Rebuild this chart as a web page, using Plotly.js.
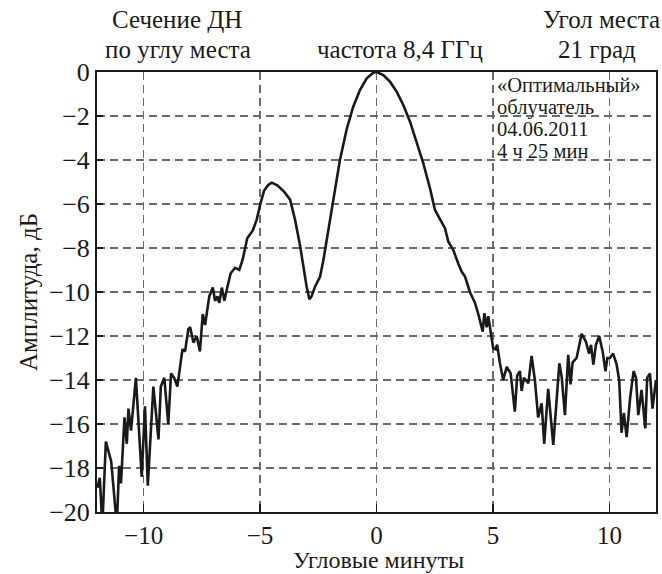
<!DOCTYPE html>
<html>
<head>
<meta charset="utf-8">
<script src="https://cdn.plot.ly/plotly-3.0.1.min.js"></script>
<style>html,body{margin:0;padding:0;background:#fff;}#chart{width:662px;height:574px;}</style>
</head>
<body>
<div id="chart"></div>
<script>
// Angle, arc minutes
const angleMin = [
 -11.98,-11.88,-11.77,-11.62,-11.39,-11.15,-11.05,-10.97,-10.82,-10.72,-10.65,-10.54,-10.33,-10.08,-9.94,-9.82,
 -9.58,-9.46,-9.36,-9.26,-9.11,-8.94,-8.82,-8.69,-8.55,-8.33,-8.22,-8.08,-8.00,-7.86,-7.72,-7.58,-7.46,-7.36,-7.28,
 -7.18,-7.03,-6.93,-6.83,-6.75,-6.64,-6.53,-6.43,-6.26,-6.07,-5.89,-5.74,-5.55,-5.31,-5.14,-5.00,-4.83,-4.66,-4.50,
 -4.26,-3.97,-3.71,-3.50,-3.28,-3.14,-3.00,-2.88,-2.79,-2.64,-2.42,-2.28,-2.07,-1.85,-1.57,-1.28,-1.00,-0.71,-0.42,
 -0.14,0.01,0.29,0.58,0.87,1.15,1.44,1.73,2.01,2.30,2.51,2.73,2.94,3.08,3.30,3.51,3.66,3.80,4.01,4.23,4.37,4.56,
 4.63,4.73,4.80,4.90,5.01,5.11,5.18,5.30,5.44,5.59,5.76,5.94,6.04,6.16,6.23,6.33,6.42,6.52,6.66,6.80,6.94,7.09,
 7.20,7.37,7.59,7.85,7.95,8.09,8.23,8.33,8.42,8.59,8.81,8.99,9.13,9.21,9.31,9.42,9.56,9.71,9.83,9.91,10.02,10.16,
 10.31,10.42,10.52,10.62,10.74,10.89,11.04,11.14,11.24,11.38,11.54,11.62,11.74,11.85,12.0
];
// Amplitude, dB
const amplitudeDb = [
 -18.9,-18.45,-20.6,-16.8,-17.7,-20.6,-17.9,-18.7,-15.7,-16.9,-15.3,-16.3,-13.9,-18.4,-15.2,-18.8,
 -14.3,-15.6,-16.7,-14.3,-13.9,-16.0,-13.7,-13.9,-14.3,-12.6,-12.7,-11.7,-11.6,-12.3,-12.0,-12.7,-11.0,-11.5,-11.0,
 -10.2,-9.8,-10.4,-10.2,-10.5,-9.8,-10.4,-9.9,-9.15,-8.9,-9.0,-8.5,-7.56,-7.2,-6.7,-6.05,-5.4,-5.15,-5.03,
 -5.15,-5.44,-5.8,-6.7,-7.9,-8.85,-9.76,-10.33,-10.2,-9.76,-9.3,-8.55,-7.2,-5.8,-4.0,-2.6,-1.58,-0.82,-0.29,
 -0.03,0,-0.14,-0.44,-0.9,-1.5,-2.26,-3.17,-4.15,-5.3,-6.27,-6.7,-7.1,-7.7,-8.1,-8.7,-9.08,-9.3,-10.0,-10.5,-11.0,-11.8,
 -10.97,-11.6,-11.1,-11.8,-12.56,-12.6,-12.4,-13.24,-14.0,-13.4,-13.7,-15.44,-13.8,-13.6,-14.5,-13.9,-14.0,-14.15,-12.9,-14.0,-15.7,-15.06,
 -16.9,-14.4,-16.95,-13.24,-13.85,-15.6,-12.86,-14.2,-13.2,-13.0,-11.9,-12.26,-12.8,-12.4,-13.3,-12.4,-12.0,-12.7,-13.6,-13.0,-13.0,-12.8,
 -13.3,-14.0,-16.4,-15.5,-16.6,-14.8,-13.6,-13.9,-15.6,-14.45,-16.2,-13.9,-13.7,-15.3,-14.0
];
const xTicks = [-10, -5, 0, 5, 10];
const yTicks = [0, -2, -4, -6, -8, -10, -12, -14, -16, -18, -20];

const titleLeft1 = 'Сечение ДН';
const titleLeft2 = 'по углу места';
const titleMid = 'частота 8,4 ГГц';
const titleRight1 = 'Угол места';
const titleRight2 = '21 град';
const noteLines = ['«Оптимальный»', 'облучатель', '04.06.2011', '4 ч 25 мин'];
const xTitle = 'Угловые минуты';
const yTitle = 'Амплитуда, дБ';

const FONT = 'Liberation Serif, Times New Roman, serif';
const INK = '#1a1a1a';
const gridCol = '#6a6a6a';

const trace = {
  x: angleMin, y: amplitudeDb, type: 'scatter', mode: 'lines',
  line: {color: INK, width: 2.6}, hoverinfo: 'skip', showlegend: false
};

function txt(text, x, y, anchor, size, yanchor) {
  return {text: text, x: x, y: y, xref: 'paper', yref: 'paper', showarrow: false,
          xanchor: anchor, yanchor: yanchor || 'middle', font: {family: FONT, size: size, color: INK}};
}
// pixel helpers for layout placement (plot area 97..656 x 72..512)
const px = v => (v - 97) / 559;
const py = v => (512 - v) / 440;

const annotations = [
  txt(titleLeft1, px(177), py(19), 'center', 25),
  txt(titleLeft2, px(178), py(49), 'center', 25),
  txt(titleMid, px(400), py(49), 'center', 25),
  txt(titleRight1, px(601), py(19), 'center', 25),
  txt(titleRight2, px(597), py(49), 'center', 25),
  txt(xTitle, px(378), py(575), 'center', 24, 'bottom')
];
const noteY = [85, 107, 129, 151];
noteLines.forEach((t, i) => annotations.push(txt(t, px(495), py(noteY[i]), 'left', 20.5)));

const layout = {
  width: 662, height: 574,
  margin: {l: 97, r: 6, t: 72, b: 62},
  paper_bgcolor: '#fff', plot_bgcolor: '#fff',
  font: {family: FONT, color: INK},
  xaxis: {
    range: [-12, 12], tickvals: xTicks, ticks: 'inside', ticklen: 8, tickwidth: 1.5, tickcolor: INK,
    showline: true, linecolor: INK, linewidth: 2, mirror: true,
    showgrid: true, gridcolor: gridCol, gridwidth: 1.4, griddash: '8px,5px',
    zeroline: false, tickfont: {family: FONT, size: 25, color: INK},
    ticklabelstandoff: 0
  },
  yaxis: {
    range: [-20, 0], tickvals: yTicks, ticks: 'inside', ticklen: 6, tickwidth: 1.5, tickcolor: INK,
    showline: true, linecolor: INK, linewidth: 2, mirror: true,
    showgrid: true, gridcolor: gridCol, gridwidth: 1.4, griddash: '8px,5px',
    zeroline: false, tickfont: {family: FONT, size: 26, color: INK},
    title: {text: yTitle, font: {family: FONT, size: 25, color: INK}, standoff: 4}
  },
  shapes: [{
    type: 'rect', xref: 'paper', yref: 'paper', layer: 'between',
    x0: px(494), x1: px(619), y0: py(157), y1: py(74),
    fillcolor: '#fff', line: {width: 0}
  }],
  annotations: annotations
};

Plotly.newPlot('chart', [trace], layout, {displayModeBar: false, staticPlot: true});
</script>
</body>
</html>
